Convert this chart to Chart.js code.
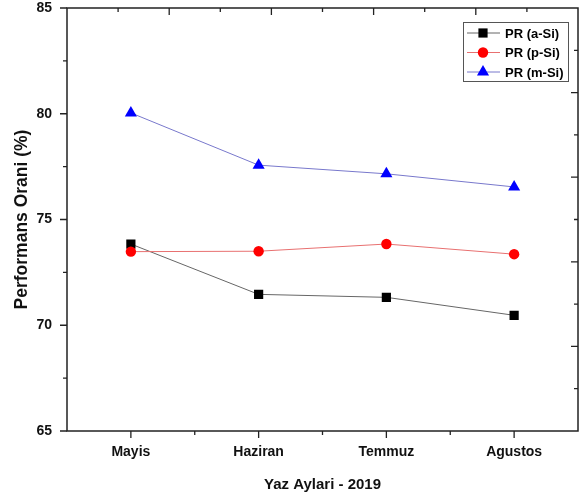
<!DOCTYPE html>
<html>
<head>
<meta charset="utf-8">
<script src="https://cdn.jsdelivr.net/npm/chart.js@4.4.1/dist/chart.umd.min.js"></script>
<style>
  html, body { margin: 0; padding: 0; background: #fff; }
  #wrap { width: 581px; height: 499px; }
  canvas { display: block; }
</style>
</head>
<body>
<div id="wrap"><canvas id="prChart" width="581" height="499"></canvas></div>
<script>
// Months on the x axis
const months = ['Mayis', 'Haziran', 'Temmuz', 'Agustos'];

// Performance ratio (%) per panel type
const prASi = [73.84, 71.46, 71.32, 70.47];
const prPSi = [73.48, 73.50, 73.84, 73.36];
const prMSi = [80.04, 77.57, 77.16, 76.54];

const yTicks = [65, 70, 75, 80, 85];

const fontFamily = '"Liberation Sans", Arial, sans-serif';

// Frame, mirrored ticks and the legend box (Origin style)
const framePlugin = {
    id: 'frame',
    afterDraw(chart) {
        const ctx = chart.ctx;
        const area = chart.chartArea;
        const xs = chart.scales.x;
        const ys = chart.scales.y;
        ctx.save();
        ctx.strokeStyle = '#222';
        ctx.lineWidth = 1.5;
        ctx.strokeRect(area.left, area.top, area.right - area.left, area.bottom - area.top);

        ctx.lineWidth = 1.3;
        ctx.beginPath();
        // left axis: outward ticks, major every 5, minor every 2.5
        for (let v = 65; v <= 85; v += 2.5) {
            const y = ys.getPixelForValue(v);
            const len = (v % 5 === 0) ? 7 : 4;
            ctx.moveTo(area.left - len, y);
            ctx.lineTo(area.left, y);
        }
        // bottom axis: major under categories, minor between them
        const step = xs.getPixelForValue(1) - xs.getPixelForValue(0);
        for (let i = 0; i < months.length; i++) {
            const x = xs.getPixelForValue(i);
            ctx.moveTo(x, area.bottom);
            ctx.lineTo(x, area.bottom + 7);
            if (i > 0) {
                ctx.moveTo(x - step / 2, area.bottom);
                ctx.lineTo(x - step / 2, area.bottom + 4);
            }
        }
        // top and right axes: 10 divisions, inward ticks
        const w = area.right - area.left;
        const h = area.bottom - area.top;
        for (let k = 1; k < 10; k++) {
            const len = (k % 2 === 0) ? 7 : 4;
            const x = area.left + w * k / 10;
            ctx.moveTo(x, area.top);
            ctx.lineTo(x, area.top + len);
            const y = area.bottom - h * k / 10;
            ctx.moveTo(area.right, y);
            ctx.lineTo(area.right - len, y);
        }
        ctx.stroke();

        // legend
        const lx = 463, ly = 22, lw = 105, lh = 59;
        ctx.fillStyle = '#fff';
        ctx.fillRect(lx, ly, lw, lh);
        ctx.strokeStyle = '#555';
        ctx.lineWidth = 1;
        ctx.strokeRect(lx + 0.5, ly + 0.5, lw, lh);
        ctx.font = 'bold 13px ' + fontFamily;
        ctx.textBaseline = 'middle';
        ctx.textAlign = 'left';
        chart.data.datasets.forEach((ds, i) => {
            const y = ly + 11 + i * 19.5;
            ctx.strokeStyle = ds.borderColor;
            ctx.lineWidth = 1;
            ctx.beginPath();
            ctx.moveTo(lx + 4, y);
            ctx.lineTo(lx + 37, y);
            ctx.stroke();
            ctx.fillStyle = ds.pointBackgroundColor;
            Chart.helpers.drawPoint(ctx, {
                pointStyle: ds.pointStyle,
                radius: ds.legendRadius,
                rotation: 0,
                borderWidth: 0
            }, lx + 20, y);
            ctx.fillStyle = '#000';
            ctx.fillText(ds.label, lx + 42, y + 1);
        });
        ctx.restore();
    }
};

new Chart(document.getElementById('prChart').getContext('2d'), {
    type: 'line',
    data: {
        labels: months,
        datasets: [
            {
                label: 'PR (a-Si)',
                data: prASi,
                borderColor: '#666666',
                borderWidth: 1,
                pointStyle: 'rect',
                pointRadius: 6.5,
                pointBackgroundColor: '#000000',
                pointBorderWidth: 0,
                legendRadius: 6.5,
                order: 3
            },
            {
                label: 'PR (p-Si)',
                data: prPSi,
                borderColor: '#e87070',
                borderWidth: 1,
                pointStyle: 'circle',
                pointRadius: 5.2,
                pointBackgroundColor: '#ff0000',
                pointBorderWidth: 0,
                legendRadius: 5.2,
                order: 2
            },
            {
                label: 'PR (m-Si)',
                data: prMSi,
                borderColor: '#7878cc',
                borderWidth: 1,
                pointStyle: 'triangle',
                pointRadius: 7,
                pointBackgroundColor: '#0000ff',
                pointBorderWidth: 0,
                legendRadius: 7,
                order: 1
            }
        ]
    },
    options: {
        responsive: false,
        animation: false,
        // no auto padding for the markers, the frame must reach x=578
        layout: { autoPadding: false, padding: { top: 8, right: 3, left: 0, bottom: 0 } },
        plugins: {
            legend: { display: false },
            tooltip: { enabled: false }
        },
        scales: {
            x: {
                offset: true,
                grid: { display: false, drawTicks: false },
                border: { display: false },
                ticks: {
                    color: '#111',
                    padding: 13,
                    font: { family: fontFamily, size: 14, weight: 'bold' }
                },
                title: {
                    display: true,
                    text: 'Yaz Aylari - 2019',
                    color: '#111',
                    padding: { top: 0, bottom: 5 },
                    font: { family: fontFamily, size: 15, weight: 'bold' }
                },
                afterFit: (scale) => {
                    scale.height = 68;
                    scale.paddingLeft = 0;
                    scale.paddingRight = 0;
                }
            },
            y: {
                min: 65,
                max: 85,
                grid: { display: false, drawTicks: false },
                border: { display: false },
                afterBuildTicks: (scale) => { scale.ticks = yTicks.map(v => ({ value: v })); },
                ticks: {
                    color: '#111',
                    padding: 15,
                    font: { family: fontFamily, size: 14, weight: 'bold' }
                },
                title: {
                    display: true,
                    text: 'Performans Orani (%)',
                    color: '#111',
                    padding: { top: 12, bottom: 0 },
                    font: { family: fontFamily, size: 17.5, weight: 'bold' }
                },
                afterFit: (scale) => {
                    scale.width = 67;
                    scale.paddingTop = 0;
                    scale.paddingBottom = 0;
                }
            }
        }
    },
    plugins: [framePlugin]
});
</script>
</body>
</html>
